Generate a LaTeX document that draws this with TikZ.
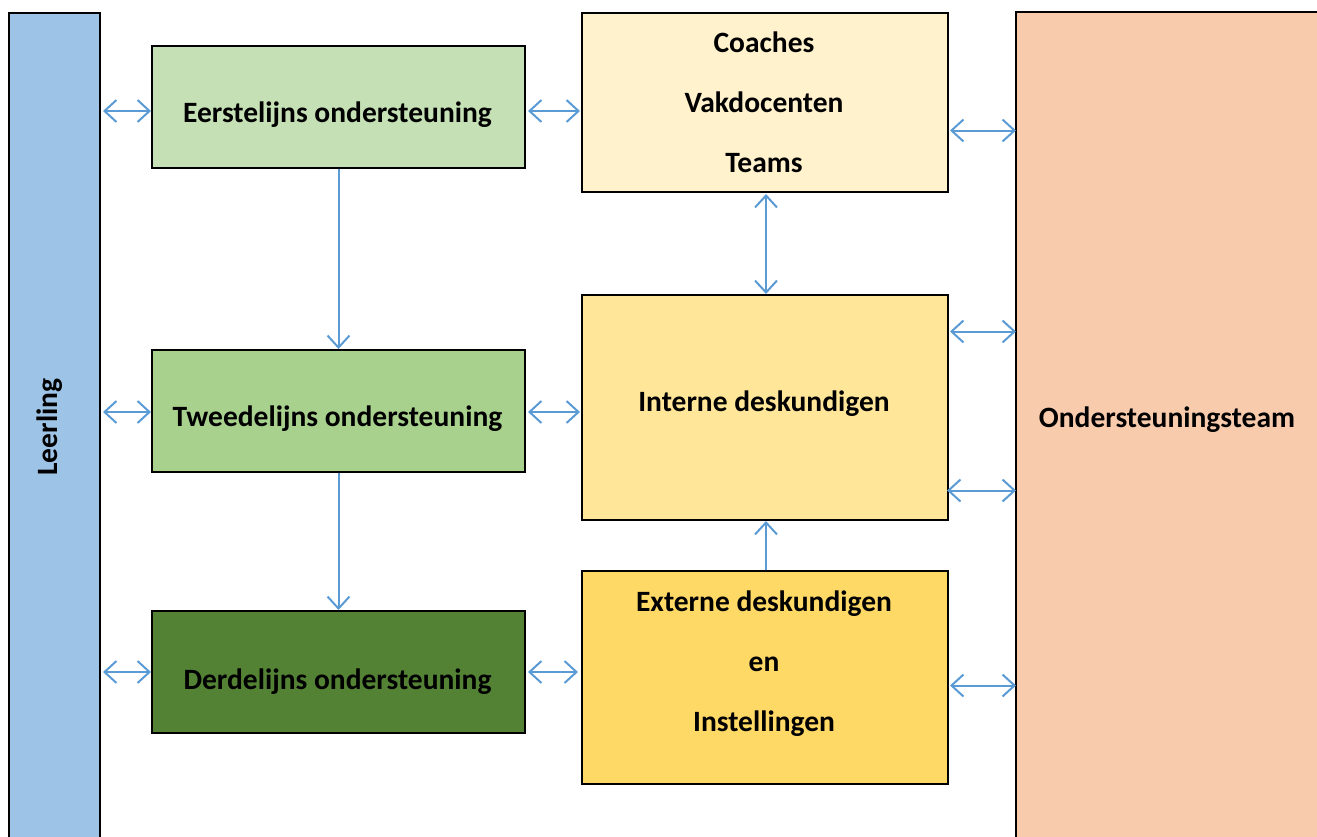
\documentclass[tikz,border=0pt]{standalone}
\usepackage{fontspec}
\setmainfont{Carlito}
\usetikzlibrary{arrows.meta}
\definecolor{leerc}{HTML}{9DC3E6}
\definecolor{g1}{HTML}{C5E0B4}
\definecolor{g2}{HTML}{A9D18E}
\definecolor{g3}{HTML}{548235}
\definecolor{y1}{HTML}{FFF2CC}
\definecolor{y2}{HTML}{FFE699}
\definecolor{y3}{HTML}{FFD966}
\definecolor{orc}{HTML}{F8CBAD}
\definecolor{arrc}{HTML}{5B9BD5}
\begin{document}
\begin{tikzpicture}[x=1pt,y=-1pt,
  box/.style={draw=black,line width=2pt,anchor=north west,inner sep=0pt},
  txt/.style={align=center,inner sep=0pt,font=\fontsize{29.5}{60}\selectfont\bfseries},
  arr/.style={draw=arrc,line width=2pt,{Straight Barb[length=12pt,width=22pt]}-{Straight Barb[length=12pt,width=22pt]}},
  arrone/.style={draw=arrc,line width=2pt,-{Straight Barb[length=12pt,width=22pt]}}]
\useasboundingbox (0,0) rectangle (1317,836);
\clip (0,0) rectangle (1317,836);
\node[box,fill=leerc,minimum width=91pt,minimum height=840pt] (leer) at (8,12) {};
\node[txt,rotate=90] (leert) at (50,427) {Leerling};
\node[box,draw=none,fill=orc,minimum width=330pt,minimum height=840pt] (ond) at (1016,12) {};
\draw[line width=2pt] (ond.south west) -- (ond.north west) -- (ond.north east);
\node[txt] (ondt) at (1167,420) {Ondersteuningsteam};
\node[box,fill=g1,minimum width=373pt,minimum height=122pt] (e1) at (151,45) {};
\node[box,fill=g2,minimum width=373pt,minimum height=122pt] (e2) at (151,349) {};
\node[box,fill=g3,minimum width=373pt,minimum height=122pt] (e3) at (151,610) {};
\node[box,fill=y1,minimum width=366pt,minimum height=179pt] (coach) at (581,12) {};
\node[box,fill=y2,minimum width=366pt,minimum height=225pt] (int) at (581,294) {};
\node[box,fill=y3,minimum width=366pt,minimum height=213pt] (ext) at (581,570) {};
\node[txt] (e1t) at (337.5,115) {Eerstelijns ondersteuning};
\node[txt] (e2t) at (337.5,419) {Tweedelijns ondersteuning};
\node[txt] (e3t) at (337.5,682) {Derdelijns ondersteuning};
\node[txt] (coacht) at (764,102) {Coaches\\Vakdocenten\\Teams};
\node[txt] (intt) at (764,404) {Interne deskundigen};
\node[txt] (extt) at (764,664) {Externe deskundigen\\en\\Instellingen};
% arrows
\draw[arr,shorten <=2pt] ([yshift=-4pt]leer.east |- e1.west) -- ([yshift=-4pt]e1.west);
\draw[arr,shorten <=2pt,shorten >=1pt] ([yshift=-4pt]e1.east) -- ([yshift=-4pt]coach.west |- e1.east);
\draw[arr,shorten <=1pt] ([yshift=-28pt]coach.east) -- ([yshift=-28pt]ond.west |- coach.east);
\draw[arr,shorten <=1pt] ([xshift=1pt]coach.south) -- ([xshift=1pt]int.north);
\draw[arrone] (e1.south) -- (e2.north);
\draw[arr,shorten <=2pt] ([yshift=-1pt]leer.east |- e2.west) -- ([yshift=-1pt]e2.west);
\draw[arr,shorten <=2pt,shorten >=1pt] ([yshift=-1pt]e2.east) -- ([yshift=-1pt]int.west |- e2.east);
\draw[arr,shorten <=1pt] ([yshift=76pt]int.east) -- ([yshift=76pt]ond.west |- int.east);
\draw[arr,shorten <=-2pt] ([yshift=-83pt]int.east) -- ([yshift=-83pt]ond.west |- int.east);
\draw[arrone] (e2.south) -- (e3.north);
\draw[arr,shorten <=2pt] (leer.east |- e3.west) -- (e3.west);
\draw[arr,shorten <=2pt,shorten >=3pt] (e3.east) -- (ext.west |- e3.east);
\draw[arrone] ([xshift=1pt]ext.north) -- ([xshift=1pt]int.south);
\draw[arr,shorten <=1pt] ([yshift=-8pt]ext.east) -- ([yshift=-8pt]ond.west |- ext.east);
\end{tikzpicture}
\end{document}
